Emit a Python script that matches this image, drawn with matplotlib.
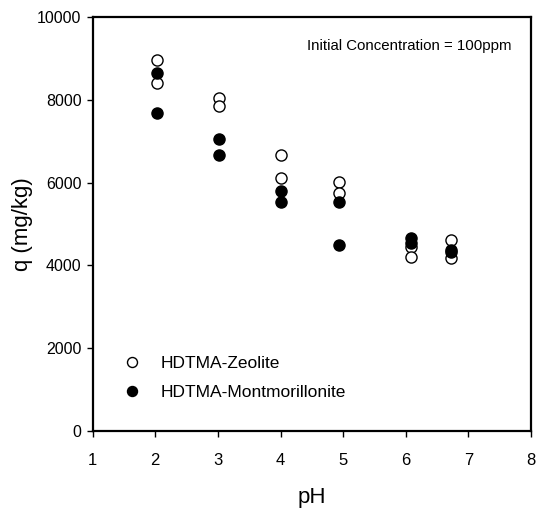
import matplotlib
matplotlib.use("Agg")
import matplotlib.pyplot as plt

plt.rcParams['font.family'] = ['Liberation Sans', 'DejaVu Sans']

# Data
zeolite_ph = [2.03, 2.03, 3.02, 3.02, 4.0, 4.0, 4.94, 4.94, 6.09, 6.09, 6.72, 6.72]
zeolite_q = [8960, 8400, 8040, 7850, 6670, 6120, 6010, 5740, 4450, 4210, 4620, 4180]

mont_ph = [2.03, 2.03, 3.02, 3.02, 4.0, 4.0, 4.94, 4.94, 6.09, 6.09, 6.72, 6.72]
mont_q = [8650, 7690, 7050, 6670, 5790, 5520, 5520, 4490, 4650, 4530, 4380, 4330]

x_ticks = [1, 2, 3, 4, 5, 6, 7, 8]
y_ticks = [0, 2000, 4000, 6000, 8000, 10000]

fig = plt.figure(figsize=(5.44, 5.11), dpi=100)
ax = fig.add_axes([0.1704, 0.157, 0.976 - 0.1704, 0.9667 - 0.157])

ax.plot(zeolite_ph, zeolite_q, 'o', mfc='white', mec='black', mew=1.0, ms=8,
        linestyle='none', label='HDTMA-Zeolite', zorder=3)
ax.plot(mont_ph, mont_q, 'o', mfc='black', mec='black', mew=1.0, ms=8,
        linestyle='none', label='HDTMA-Montmorillonite', zorder=3)

ax.set_xlim(1, 8)
ax.set_ylim(0, 10000)
ax.set_xticks(x_ticks)
ax.set_yticks(y_ticks)
ax.set_xticklabels([str(v) for v in x_ticks])
ax.set_yticklabels([str(v) for v in y_ticks])

for s in ax.spines.values():
    s.set_linewidth(1.6)
    s.set_color('black')

ax.tick_params(axis='x', direction='out', length=4, width=1, pad=12, labelsize=12)
ax.tick_params(axis='y', direction='out', length=4, width=1, pad=4, labelsize=11.5)

ax.set_xlabel('pH', fontsize=16, labelpad=14)
ax.set_ylabel('q (mg/kg)', fontsize=16, labelpad=3)

ax.text(0.956, 0.931, 'Initial Concentration = 100ppm', transform=ax.transAxes,
        ha='right', va='center', fontsize=10.8)

leg = ax.legend(loc='lower left', bbox_to_anchor=(0.023, 0.045), frameon=False,
                fontsize=12.5, handletextpad=0.63, borderaxespad=0.3,
                labelspacing=0.78, markerscale=0.9)

fig.savefig('out.png', dpi=100)
